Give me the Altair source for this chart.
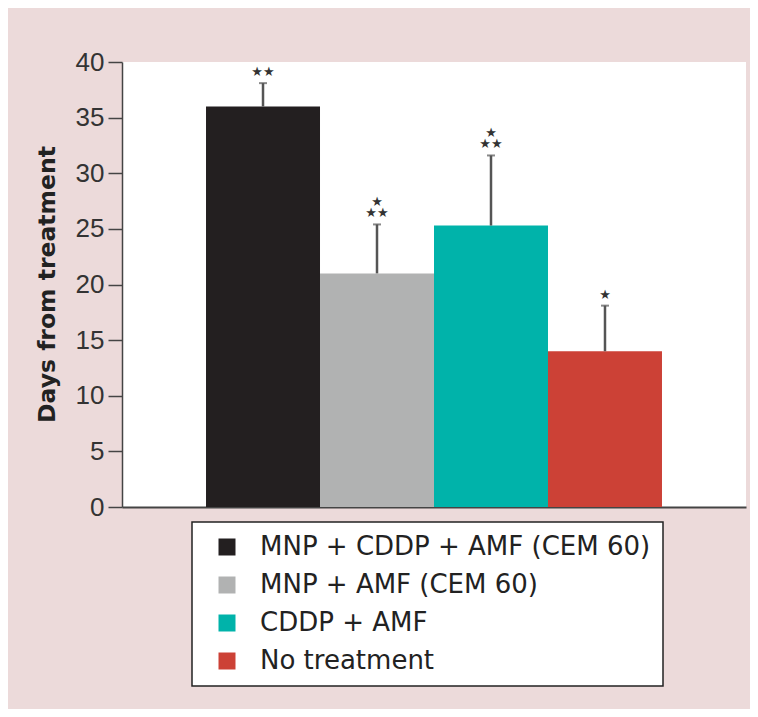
import altair as alt
import pandas as pd

groups = ["MNP + CDDP + AMF (CEM 60)", "MNP + AMF (CEM 60)", "CDDP + AMF", "No treatment"]
means = [36.0, 21.0, 25.3, 14.0]
upper = [38.1, 25.4, 31.6, 18.1]
# significance marks: top row / bottom row (joined by a line break)
stars = ["\n★★", "★\n★★", "★\n★★", "\n★"]
colors = ["#231f20", "#b1b2b2", "#00b3aa", "#cc4136"]
y_ticks = [0, 5, 10, 15, 20, 25, 30, 35, 40]

df = pd.DataFrame({
    "group": groups,
    "mean": means,
    "upper": upper,
    "stars": stars,
})

x_enc = alt.X(
    "group:N",
    sort=groups,
    scale=alt.Scale(domain=groups, paddingInner=0, paddingOuter=0.737),
    axis=alt.Axis(labels=False, ticks=False, title=None, domainColor="#444444", domainWidth=2),
)

y_axis = alt.Axis(
    values=y_ticks,
    grid=False,
    title="Days from treatment",
    titleFont="DejaVu Sans",
    titleFontSize=23.5,
    titleFontWeight="bold",
    titleColor="#222222",
    titleX=-75,
    titleY=222,
    titleAngle=270,
    titleAlign="center",
    titleBaseline="middle",
    labelFont="Liberation Sans",
    labelFontSize=26,
    labelColor="#333333",
    labelPadding=4,
    tickSize=14,
    tickColor="#444444",
    tickWidth=1.5,
    domainColor="#444444",
    domainWidth=1.5,
)
y_scale = alt.Scale(domain=[0, 40], nice=False)

base = alt.Chart(df)

bars = base.mark_bar().encode(
    x=x_enc,
    y=alt.Y("mean:Q", scale=y_scale, axis=y_axis),
    color=alt.Color(
        "group:N",
        sort=groups,
        scale=alt.Scale(domain=groups, range=colors),
        legend=alt.Legend(
            title=None,
            orient="none",
            legendX=70,
            legendY=460,
            fillColor="white",
            strokeColor="#222222",
            padding=12,
            rowPadding=12,
            symbolType="square",
            symbolSize=289,
            symbolStrokeWidth=0,
            symbolOffset=10,
            labelOffset=20,
            labelFont="DejaVu Sans",
            labelFontSize=26,
            labelColor="#222222",
            labelLimit=600,
        ),
    ),
)

rule = base.mark_rule(color="#555555", strokeWidth=2.5).encode(
    x=x_enc,
    y=alt.Y("mean:Q", scale=y_scale),
    y2="upper:Q",
)

cap = base.mark_tick(color="#555555", size=8, thickness=2).encode(
    x=x_enc,
    y=alt.Y("upper:Q", scale=y_scale),
)

txt = base.mark_text(
    fontSize=13, dy=-15, baseline="bottom", lineBreak="\n", lineHeight=11,
    color="#333333", font="DejaVu Sans",
).encode(
    x=x_enc,
    y=alt.Y("upper:Q", scale=y_scale),
    text="stars:N",
)

chart = alt.layer(bars, rule, cap, txt).properties(
    width=624,
    height=445,
    autosize=alt.AutoSizeParams(type="none"),
    padding={"left": 114, "top": 54, "right": 4, "bottom": 202},
    background="#ecdada",
).configure_view(fill="white", stroke=None).configure_legend(strokeWidth=1.5)

chart.save("out.html", embed_options={"renderer": "svg", "actions": False})
